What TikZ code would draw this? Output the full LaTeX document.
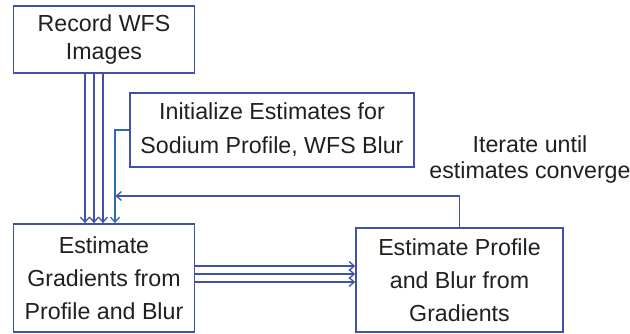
\documentclass[tikz,border=0pt]{standalone}
\usepackage{fontspec}
\setmainfont{Liberation Sans}
\usetikzlibrary{arrows.meta}
\definecolor{boxblue}{HTML}{3F51A8}
\definecolor{initblue}{HTML}{2E6CA8}
\definecolor{txt}{HTML}{231F20}
\begin{document}
\begin{tikzpicture}[x=1pt,y=-1pt,
  box/.style={draw=boxblue,line width=1.8pt,fill=white,align=center,text=txt,
    font=\fontsize{23.2}{31}\selectfont,inner sep=0pt},
  conn/.style={draw=boxblue,line width=1.5pt,-{Straight Barb[length=5pt,width=9pt,line width=1.3pt]}},
  lbl/.style={align=center,text=txt,font=\fontsize{23.2}{26}\selectfont}]
\useasboundingbox[fill=white] (0,0) rectangle (630,334);
\node[box,minimum width=181pt,minimum height=67pt,font=\fontsize{23.2}{28}\selectfont] (rec) at (104,39.5) {Record WFS\\Images};
\node[box,minimum width=284pt,minimum height=74pt,font=\fontsize{23.2}{34}\selectfont] (init) at (272,130) {Initialize Estimates for\\Sodium Profile, WFS Blur};
\node[box,minimum width=181pt,minimum height=108pt,font=\fontsize{23.2}{33}\selectfont] (grad) at (104,278) {Estimate\\Gradients from\\Profile and Blur};
\node[box,minimum width=207pt,minimum height=104pt,font=\fontsize{23.2}{33}\selectfont] (prof) at (459.5,280) {Estimate Profile\\and Blur from\\Gradients};
\node[lbl] (iter) at (530,160) {Iterate until\\estimates converge};
\coordinate (iterend) at (115.5,196);
% three image lines
\foreach \dx in {-19,-10,-1}
  \draw[conn] ([xshift=\dx pt]rec.south) -- ([xshift=\dx pt]grad.north);
% initialisation
\draw[conn,draw=initblue] (init.west) -| ([xshift=11pt]grad.north);
% iteration loop
\draw[conn] (prof.north) |- (iterend);
% three gradient lines
\foreach \yy in {266,274,282}
  \draw[conn] (grad.east |- 0,\yy) -- (prof.west |- 0,\yy);
\end{tikzpicture}
\end{document}
